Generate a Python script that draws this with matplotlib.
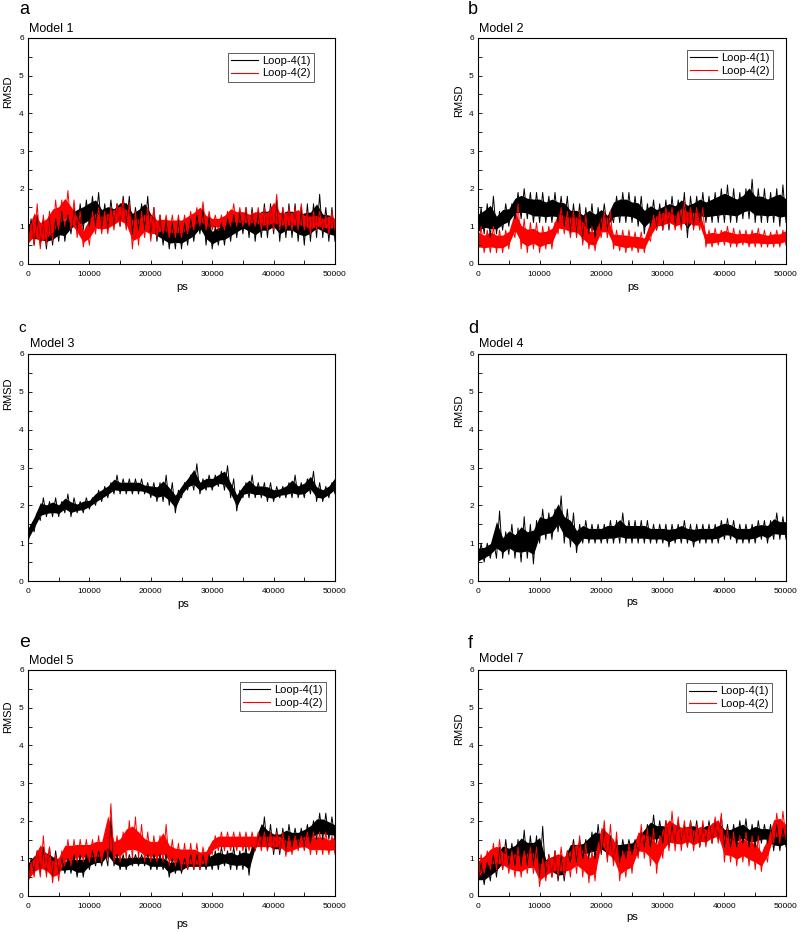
import numpy as np
import matplotlib
matplotlib.use("Agg")
import matplotlib.pyplot as plt
from matplotlib.ticker import MultipleLocator

plt.rcParams['font.family'] = ['Liberation Sans', 'DejaVu Sans']

# time axis (ps), sampled every 1000 ps; each sample holds the read max / min of the trace
TIME_PS = list(range(0, 50001, 1000))

# ---- Model 1 (a)
M1_L1_HI = [1.2,1.3,1.2,1.3,1.2,1.4,1.3,1.5,1.6,1.7, 1.8,1.9,1.6,1.7,1.6,1.8,1.8,1.5,1.6,1.8,
            1.5,1.3,1.2,1.1,1.2,1.1,1.2,1.3,1.5,1.3, 1.0,1.1,1.2,1.3,1.4,1.5,1.5,1.4,1.6,1.6,
            1.7,1.5,1.6,1.6,1.5,1.6,1.6,1.85,1.5,1.5, 1.3]
M1_L1_LO = [0.6,0.5,0.5,0.4,0.5,0.6,0.6,0.8,0.9,0.9, 1.0,1.0,0.9,0.9,1.0,1.0,1.0,0.8,0.9,0.9,
            0.7,0.6,0.5,0.4,0.4,0.4,0.5,0.6,0.8,0.5, 0.4,0.5,0.5,0.6,0.7,0.8,0.7,0.6,0.7,0.7,
            0.8,0.6,0.7,0.7,0.6,0.5,0.6,0.7,0.7,0.6, 0.6]
M1_L2_HI = [1.1,1.6,1.3,1.4,1.7,1.7,1.95,1.7,1.4,1.0, 1.4,1.5,1.4,1.5,1.6,1.7,1.6,1.4,1.4,1.5,
            1.5,1.3,1.3,1.3,1.3,1.3,1.4,1.5,1.65,1.4, 1.3,1.3,1.4,1.6,1.5,1.5,1.4,1.5,1.5,1.5,
            1.85,1.5,1.5,1.5,1.6,1.4,1.4,1.4,1.3,1.4, 1.3]
M1_L2_LO = [0.4,0.5,0.4,0.5,0.6,0.9,1.0,0.9,0.7,0.45, 0.5,0.8,0.8,0.8,0.9,1.0,0.9,0.4,0.5,0.7,
            0.6,0.7,0.8,0.7,0.7,0.7,0.8,0.9,1.0,0.9, 0.9,0.9,0.9,1.0,1.0,1.0,1.0,1.0,0.9,0.9,
            0.9,0.9,0.9,0.9,0.9,0.9,0.8,0.9,0.9,0.8, 0.9]

# ---- Model 2 (b)
M2_L1_HI = [1.5,1.6,1.8,1.4,1.6,1.6,1.9,2.0,1.9,1.9, 1.9,1.8,1.9,1.8,1.8,1.6,1.6,1.5,1.6,1.5,
            1.6,1.4,1.8,1.9,1.9,1.8,1.8,1.6,1.7,1.6, 1.7,1.8,1.7,1.9,1.8,1.8,1.9,1.8,1.9,2.0,
            2.1,2.0,1.9,2.0,2.25,2.0,2.0,1.9,2.0,2.1, 1.9]
M2_L1_LO = [0.7,0.8,0.7,0.8,0.9,1.0,1.2,1.2,1.2,1.1, 1.1,1.1,1.1,1.1,1.0,0.8,0.8,0.6,0.8,0.7,
            0.9,0.9,1.1,1.1,1.1,1.1,1.0,0.8,1.0,0.9, 0.9,0.9,1.0,1.0,0.7,1.0,1.1,1.1,1.1,1.1,
            1.1,1.1,1.1,1.2,1.2,1.1,1.1,1.1,1.1,1.0, 1.1]
M2_L2_HI = [1.0,0.9,1.0,0.9,0.9,1.0,1.6,1.2,1.1,1.1, 1.0,1.0,1.1,1.5,1.4,1.4,1.4,1.3,1.0,1.0,
            1.4,1.4,0.9,0.9,0.9,0.85,0.85,0.8,1.3,1.4, 1.5,1.5,1.4,1.65,1.5,1.5,1.5,0.9,0.95,0.9,
            1.0,0.95,0.9,0.9,0.9,0.95,0.9,0.85,0.9,0.9, 1.0]
M2_L2_LO = [0.3,0.3,0.3,0.3,0.3,0.4,0.7,0.4,0.3,0.4, 0.3,0.4,0.4,0.8,0.8,0.7,0.7,0.5,0.4,0.35,
            0.7,0.7,0.4,0.35,0.3,0.35,0.3,0.3,0.6,0.9, 0.9,1.0,0.9,0.9,1.0,0.9,0.9,0.45,0.45,0.5,
            0.5,0.45,0.45,0.5,0.45,0.45,0.45,0.45,0.45,0.45, 0.5]

# ---- Model 3 (c)
M3_HI = [1.5,1.8,2.2,2.1,2.2,2.1,2.3,2.2,2.1,2.2, 2.2,2.4,2.5,2.6,2.8,2.7,2.7,2.7,2.7,2.6,
         2.6,2.6,2.8,2.6,2.4,2.6,2.8,3.1,2.7,2.8, 2.8,2.9,3.05,2.7,2.4,2.6,2.8,2.6,2.6,2.6,
         2.5,2.5,2.6,2.8,2.6,2.7,2.9,2.6,2.5,2.6, 2.85]
M3_LO = [1.0,1.3,1.6,1.7,1.7,1.7,1.8,1.7,1.8,1.8, 1.9,2.0,2.1,2.2,2.3,2.3,2.3,2.3,2.3,2.3,
         2.2,2.1,2.1,2.0,1.8,2.2,2.4,2.4,2.3,2.4, 2.4,2.5,2.4,2.2,1.85,2.2,2.2,2.2,2.2,2.1,
         2.1,2.2,2.2,2.2,2.2,2.2,2.3,2.1,2.1,2.2, 2.3]

# ---- Model 4 (d)
M4_HI = [1.0,1.0,1.1,1.85,1.3,1.5,1.4,1.7,1.5,1.6, 1.9,1.8,1.9,2.25,1.9,1.8,1.5,1.6,1.5,1.5,
         1.5,1.6,1.6,1.8,1.6,1.6,1.6,1.6,1.5,1.5, 1.5,1.5,1.5,1.6,1.5,1.5,1.5,1.5,1.5,1.6,
         1.65,1.6,1.5,1.5,1.5,1.6,1.6,1.6,1.8,1.7, 1.7]
M4_LO = [0.4,0.5,0.6,0.6,0.6,0.7,0.6,0.5,0.6,0.45, 1.0,1.1,1.1,1.3,1.0,0.9,0.75,1.0,1.0,1.0,
         1.0,1.0,1.0,1.0,1.0,1.0,1.0,1.0,1.0,1.0, 1.0,0.9,1.0,1.0,1.0,0.9,1.0,1.0,1.0,1.0,
         1.1,1.1,1.0,1.0,1.0,1.0,1.1,1.0,1.1,1.1, 1.1]

# ---- Model 5 (e)
M5_L1_HI = [1.0,1.2,1.3,1.3,1.2,1.0,1.0,1.1,1.1,1.1, 1.2,1.2,1.2,2.1,1.1,1.1,1.1,1.1,1.1,1.1,
            1.1,1.1,1.1,1.0,1.0,1.0,1.1,1.1,1.1,1.1, 1.2,1.3,1.2,1.3,1.2,1.3,1.3,1.6,2.1,1.9,
            1.8,1.8,1.9,1.8,1.8,1.9,2.0,2.2,2.2,2.1, 2.0]
M5_L1_LO = [0.4,0.6,0.6,0.6,0.5,0.6,0.6,0.6,0.5,0.5, 0.7,0.8,0.8,0.8,0.8,0.7,0.7,0.8,0.8,0.8,
            0.7,0.7,0.7,0.5,0.6,0.6,0.7,0.7,0.7,0.7, 0.7,0.7,0.8,0.7,0.7,0.7,0.55,1.2,1.3,1.2,
            1.1,1.1,1.2,1.3,1.3,1.3,1.4,1.5,1.5,1.5, 1.5]
M5_L2_HI = [0.9,1.2,1.6,1.3,1.1,1.2,1.5,1.5,1.5,1.5, 1.5,1.6,1.6,2.45,1.6,1.7,2.0,2.1,1.9,1.7,
            1.6,1.6,1.9,1.5,1.4,1.4,1.4,1.4,1.3,1.3, 1.6,1.7,1.7,1.7,1.7,1.7,1.7,1.7,1.7,1.7,
            1.7,1.7,1.6,1.6,1.6,1.7,1.7,1.7,1.7,1.6, 1.7]
M5_L2_LO = [0.3,0.5,0.5,0.5,0.35,0.4,0.8,0.8,0.9,0.9, 0.9,0.9,0.9,1.0,0.9,0.9,1.0,1.0,1.0,0.9,
            0.9,0.9,0.9,0.8,0.8,0.7,0.7,0.7,0.7,0.8, 1.1,1.2,1.2,1.2,1.2,1.2,1.2,1.2,1.2,1.2,
            1.2,1.2,1.05,1.1,1.2,1.2,1.1,1.1,1.1,1.1, 1.1]

# ---- Model 7 (f)
M7_L1_HI = [0.9,0.9,1.1,1.3,1.5,1.4,1.5,1.75,1.6,1.6, 1.85,1.1,1.2,1.1,1.2,1.5,1.5,1.5,1.7,1.9,
            1.8,1.6,1.5,1.5,1.5,1.5,1.7,1.9,2.15,2.0, 2.0,1.9,2.0,1.9,2.0,2.0,1.9,2.0,2.0,2.1,
            1.9,1.9,2.0,2.05,1.9,2.0,1.9,1.9,1.9,1.8, 1.7]
M7_L1_LO = [0.3,0.3,0.4,0.5,0.7,0.8,0.8,0.8,0.8,0.8, 0.5,0.5,0.5,0.4,0.4,0.9,0.9,1.0,1.0,1.0,
            1.1,1.0,0.9,0.9,1.0,1.1,1.1,1.3,1.3,1.4, 1.4,1.3,1.4,1.4,1.3,1.4,1.3,1.4,1.4,1.5,
            1.3,1.3,1.3,1.4,1.3,1.3,1.4,1.4,1.2,1.2, 1.3]
M7_L2_HI = [1.1,1.2,1.4,1.5,1.3,1.2,1.3,1.2,1.3,1.3, 1.0,1.1,1.2,1.3,1.2,1.4,1.6,1.4,1.2,1.3,
            2.0,1.9,1.7,1.2,1.4,1.4,1.9,1.8,1.8,1.6, 2.0,2.25,2.1,2.0,2.0,1.9,2.0,1.9,2.1,2.2,
            1.8,1.7,1.6,1.7,1.6,1.6,1.3,1.7,2.2,2.25, 2.0]
M7_L2_LO = [0.3,0.6,0.7,0.7,0.7,0.6,0.5,0.5,0.6,0.6, 0.25,0.4,0.5,0.5,0.5,0.5,0.6,0.5,0.35,0.4,
            1.2,0.9,0.8,0.4,0.5,0.6,1.0,1.0,0.8,0.6, 1.0,1.2,1.2,1.2,1.3,1.2,1.3,1.3,1.4,1.4,
            0.9,0.9,0.8,0.9,0.8,0.7,0.65,0.9,1.4,1.4, 1.5]

LEGEND_LABELS = ["Loop-4(1)", "Loop-4(2)"]

W, H = 800, 932
fig = plt.figure(figsize=(W / 100, H / 100), dpi=100)


def px_axes(x0, y_top, x1, y_bot):
    return fig.add_axes([x0 / W, 1 - y_bot / H, (x1 - x0) / W, (y_bot - y_top) / H])


def trace(ax, hi, lo, color):
    hi_a, lo_a = np.asarray(hi), np.asarray(lo)
    span = hi_a - lo_a
    # dense core of the fluctuating trace, plus the read extremes as spikes
    ax.fill_between(TIME_PS, lo_a + 0.22 * span, hi_a - 0.22 * span,
                    color=color, lw=0)
    xs, ys = [], []
    for t, h, l in zip(TIME_PS, hi, lo):
        xs += [t, t + 500]
        ys += [l, h]
    return ax.plot(xs, ys, color=color, lw=0.7)[0]


def style(ax):
    ax.set_xlim(0, 50000)
    ax.set_ylim(0, 6)
    ax.xaxis.set_major_locator(MultipleLocator(10000))
    ax.xaxis.set_minor_locator(MultipleLocator(5000))
    ax.yaxis.set_major_locator(MultipleLocator(1))
    ax.yaxis.set_minor_locator(MultipleLocator(0.5))
    ax.tick_params(which='both', direction='in', length=3, width=0.6,
                   top=False, right=False, labelsize=6)
    ax.tick_params(axis='x', pad=5)
    ax.tick_params(axis='y', pad=3)
    for s in ax.spines.values():
        s.set_linewidth(0.8)


panels = [
    # letter, model, rect(px), letter xy, model xy, rmsd xy, ps xy, series, legend anchor, letter size
    ("a", "Model 1", (28, 38, 335, 264), (19, 14), (29, 32), (8, 92), (182, 287),
     [(M1_L1_HI, M1_L1_LO), (M1_L2_HI, M1_L2_LO)], (0.932, 0.934), 13),
    ("b", "Model 2", (478, 38, 786, 264), (468, 14), (479, 32), (459, 101), (633, 287),
     [(M2_L1_HI, M2_L1_LO), (M2_L2_HI, M2_L2_LO)], (0.958, 0.947), 13),
    ("c", "Model 3", (28, 354, 335, 581), (18, 332), (30, 347), (8, 394), (183, 604),
     [(M3_HI, M3_LO)], None, 11),
    ("d", "Model 4", (478, 354, 786, 581), (468, 333), (479, 347), (459, 411), (632, 602),
     [(M4_HI, M4_LO)], None, 13),
    ("e", "Model 5", (28, 670, 335, 896), (19, 647), (29, 664), (8, 717), (182, 924),
     [(M5_L1_HI, M5_L1_LO), (M5_L2_HI, M5_L2_LO)], (0.971, 0.947), 14),
    ("f", "Model 7", (478, 670, 786, 896), (468, 648), (479, 662), (459, 729), (632, 917),
     [(M7_L1_HI, M7_L1_LO), (M7_L2_HI, M7_L2_LO)], (0.955, 0.942), 13),
]

for letter, model, rect, lxy, mxy, rxy, pxy, series, leg, lsize in panels:
    ax = px_axes(*rect)
    style(ax)
    handles = []
    for (hi, lo), col in zip(series, ["black", "red"]):
        handles.append(trace(ax, hi, lo, col))
    if leg is not None:
        lg = ax.legend(handles, LEGEND_LABELS, loc='upper right', bbox_to_anchor=leg,
                       fontsize=8, frameon=True, fancybox=False, framealpha=1,
                       edgecolor='#444444', borderpad=0.3, labelspacing=0.2,
                       handlelength=2.4, handletextpad=0.4, borderaxespad=0)
        lg.get_frame().set_linewidth(0.6)
        for l in lg.get_lines():
            l.set_linewidth(0.8)
    fig.text(lxy[0] / W, 1 - lxy[1] / H, letter, fontsize=lsize, ha='left', va='baseline')
    fig.text(mxy[0] / W, 1 - mxy[1] / H, model, fontsize=9, ha='left', va='baseline')
    fig.text(rxy[0] / W, 1 - rxy[1] / H, "RMSD", fontsize=8, rotation=90,
             ha='center', va='center')
    fig.text(pxy[0] / W, 1 - pxy[1] / H, "ps", fontsize=8, ha='center', va='center')

fig.savefig("out.png", dpi=100)
